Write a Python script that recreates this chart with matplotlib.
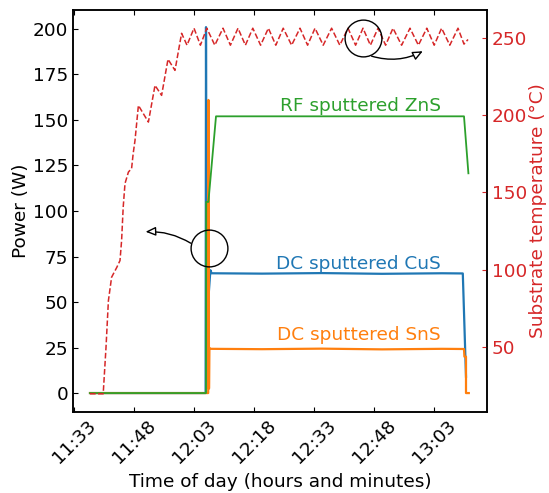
import matplotlib
matplotlib.use("Agg")
import matplotlib.pyplot as plt

# time in minutes after 11:00
temp_t = [37.0, 40.3, 41.0, 41.6, 42.4, 43.7, 44.5, 44.9, 45.3, 45.75, 46.6, 47.4, 47.8, 48.25,
          49.1, 51.6, 53.25, 54.9, 56.5, 58.25, 59.9, 61.25,
          63.0, 64.6, 66.2, 68.2, 70.25, 72.1, 74.0, 75.85, 77.7, 79.65, 81.6, 83.45, 85.3, 87.4,
          89.5, 91.4, 93.25, 95.3, 97.4, 99.45, 101.5, 103.4, 105.25, 107.1, 109.0, 110.9,
          112.75, 114.9, 117.0, 119.1, 121.2, 123.05, 124.9, 126.95, 129.0, 130.5, 131.5]
temp_v = [19.5, 19.5, 49.5, 79.8, 95.0, 101.4, 105.8, 118.8, 140.4, 155.7, 163.1, 165.5, 175.2, 183.6,
          206.3, 195.5, 219.3, 212.8, 236.2, 229.0, 253.0, 245.3,
          256.3, 245.3, 256.3, 245.3, 256.3, 245.3, 256.3, 245.3, 256.3, 245.3, 256.3, 245.3, 256.3, 245.3,
          256.3, 245.3, 256.3, 245.3, 256.3, 245.3, 256.3, 245.3, 256.3, 245.3, 256.3, 245.3,
          256.3, 245.3, 256.3, 245.3, 256.3, 245.3, 256.3, 245.3, 256.3, 246.0, 249.0]

cus_t = [37.0, 65.9, 66.0, 66.15, 66.6, 67.1, 67.4, 80.0, 95.0, 110.0, 125.0, 130.2, 131.0]
cus_v = [0.0, 0.0, 201.0, 51.0, 52.0, 67.5, 65.8, 65.6, 65.9, 65.5, 65.8, 65.7, 9.0]

sns_t = [37.0, 66.55, 66.6, 66.75, 66.85, 67.2, 80.0, 95.0, 110.0, 125.0, 130.5, 130.6, 131.0, 131.0, 131.7]
sns_v = [0.0, 0.0, 161.0, 2.5, 24.8, 24.3, 24.1, 24.4, 24.0, 24.3, 24.2, 20.0, 20.0, 0.0, 0.0]

zns_t = [37.0, 66.0, 66.05, 66.6, 68.5, 130.5, 131.6]
zns_v = [0.0, 0.0, 105.0, 105.0, 152.0, 152.0, 120.7]

xtick_pos = [33, 48, 63, 78, 93, 108, 123]
xtick_labels = ["11:33", "11:48", "12:03", "12:18", "12:33", "12:48", "13:03"]
power_ticks = [0, 25, 50, 75, 100, 125, 150, 175, 200]
temp_ticks = [50, 100, 150, 200, 250]

RED = "#d62728"
BLUE = "#1f77b4"
ORANGE = "#ff7f0e"
GREEN = "#2ca02c"
FS = 13.3

fig = plt.figure(figsize=(5.49, 4.93), dpi=100)
ax = fig.add_axes([73/549, 1-412/493, (487-73)/549, (412-10)/493])
ax.plot(cus_t, cus_v, color=BLUE, lw=1.6)
ax.plot(sns_t, sns_v, color=ORANGE, lw=1.6)
ax.plot(zns_t, zns_v, color=GREEN, lw=1.3)
ax.set_xlim(32.75, 136.25)
ax.set_ylim(-10.4, 210.4)
ax.set_xticks(xtick_pos)
ax.set_xticklabels(xtick_labels, rotation=45, fontsize=FS)
ax.set_yticks(power_ticks)
ax.tick_params(axis='y', labelsize=FS, direction='in', right=False)
ax.tick_params(axis='x', direction='in', top=True)
ax.set_ylabel("Power (W)", fontsize=FS, labelpad=2)
ax.set_xlabel("Time of day (hours and minutes)", fontsize=FS)
for s in ax.spines.values():
    s.set_linewidth(1.1)

ax.text(124.75, 155.0, "RF sputtered ZnS", color=GREEN, ha='right', va='baseline', fontsize=FS)
ax.text(124.75, 67.9, "DC sputtered CuS", color=BLUE, ha='right', va='baseline', fontsize=FS)
ax.text(124.75, 29.3, "DC sputtered SnS", color=ORANGE, ha='right', va='baseline', fontsize=FS)

# circle + arrow for power axis
ax.plot([66.8], [79.8], 'o', ms=26.5, mfc='none', mec='black', mew=1.0)
ax.annotate("", xy=(50.9, 88.6), xytext=(62.2, 82.3),
            arrowprops=dict(arrowstyle='-|>,head_length=0.5,head_width=0.22', fc='white', ec='black',
                            lw=1.0, shrinkA=0, shrinkB=0, mutation_scale=12,
                            connectionstyle='arc3,rad=0.15'))

ax2 = ax.twinx()
ax2.plot(temp_t, temp_v, color=RED, lw=1.1, ls='--')
ax2.set_ylim(7.7, 268.1)
ax2.set_yticks(temp_ticks)
ax2.tick_params(axis='y', colors=RED, labelsize=FS, direction='in')
for s in ax2.spines.values():
    s.set_linewidth(1.1)
ax2.spines['right'].set_color('black')
ax2.set_ylabel("Substrate temperature (°C)", color=RED, fontsize=FS, labelpad=1.5)

ax2.plot([105.2], [250.0], 'o', ms=26.5, mfc='none', mec='black', mew=1.0)
ax2.annotate("", xy=(120.2, 241.4), xytext=(107.4, 238.2),
             arrowprops=dict(arrowstyle='-|>,head_length=0.5,head_width=0.22', fc='white', ec='black',
                             lw=1.0, shrinkA=0, shrinkB=0, mutation_scale=12,
                             connectionstyle='arc3,rad=0.2'))

fig.savefig("out.png", dpi=100)
